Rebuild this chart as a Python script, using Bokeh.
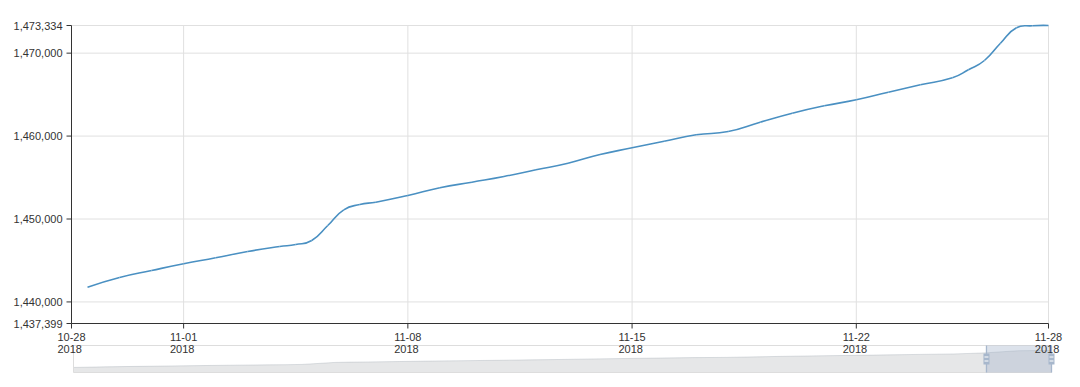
import math
import pandas as pd
from bokeh.plotting import figure
from bokeh.models import Range1d, ColumnDataSource, LabelSet
from bokeh.core.properties import value
from bokeh.embed import file_html
from bokeh.resources import INLINE

# ---------------- data ----------------
dates = [
    "2018-10-29", "2018-10-30", "2018-10-31", "2018-11-01", "2018-11-02",
    "2018-11-03", "2018-11-04", "2018-11-04 12:00", "2018-11-05", "2018-11-05 12:00",
    "2018-11-06", "2018-11-06 12:00", "2018-11-07", "2018-11-08", "2018-11-09",
    "2018-11-10", "2018-11-11", "2018-11-12", "2018-11-13", "2018-11-14",
    "2018-11-15", "2018-11-16", "2018-11-17", "2018-11-18", "2018-11-19",
    "2018-11-20", "2018-11-21", "2018-11-22", "2018-11-23", "2018-11-24",
    "2018-11-25", "2018-11-25 12:00", "2018-11-26", "2018-11-26 12:00", "2018-11-27",
    "2018-11-27 12:00", "2018-11-28",
]
totals = [
    1441776, 1442946, 1443790, 1444598, 1445322,
    1446081, 1446684, 1446925, 1447408, 1449217,
    1451110, 1451749, 1452026, 1452834, 1453763,
    1454438, 1455125, 1455933, 1456729, 1457778,
    1458586, 1459382, 1460154, 1460552, 1461673,
    1462758, 1463651, 1464374, 1465291, 1466183,
    1467027, 1467992, 1469113, 1471200, 1473057,
    1473298, 1473334,
]

x_tick_dates = ["2018-10-28 12:00", "2018-11-01", "2018-11-08", "2018-11-15", "2018-11-22", "2018-11-28"]
x_tick_labels = ["10-28\n2018", "11-01\n2018", "11-08\n2018", "11-15\n2018", "11-22\n2018", "11-28\n2018"]
y_axis_min = 1437399
y_axis_max = 1473334
y_ticks = [1437399, 1440000, 1450000, 1460000, 1470000, 1473334]
zoom_start_pct = 93.35
zoom_end_pct = 100.0
smooth = 0.5

# ---------------- layout (pixels) ----------------
W, H = 1080, 387
AXL, AXR = 71, 1048                  # x extent of the value axes
AXT, AXB = 25, 323                   # y extent of the value axes
SL, SR, ST, SB = 73, 1051, 345, 372  # slider box

TXT = "#333333"
FONT = value("Liberation Sans")


def to_ms(seq):
    idx = pd.to_datetime(list(seq), format="mixed")
    return [float((t - pd.Timestamp("1970-01-01")) / pd.Timedelta("1ms")) for t in idx]


xs = to_ms(dates)
xt = to_ms(x_tick_dates)
t0, t1 = xt[0], xt[-1]

ms_per_px = (t1 - t0) / (AXR - AXL)
val_per_px = (y_axis_max - y_axis_min) / (AXB - AXT)

p = figure(
    width=W, height=H,
    x_range=Range1d(t0 - AXL * ms_per_px, t0 + (W - AXL) * ms_per_px),
    y_range=Range1d(y_axis_min - (H - AXB) * val_per_px, y_axis_max + AXT * val_per_px),
    output_backend="svg", toolbar_location=None,
    x_axis_location=None, y_axis_location=None,
    min_border=0, outline_line_color=None, background_fill_color="white",
)
p.title.visible = False
p.grid.visible = False

p.extra_x_ranges = {"sx": Range1d((0 - SL) / (SR - SL), (W - SL) / (SR - SL))}
p.extra_y_ranges = {"sy": Range1d((SB - H) / (SB - ST), SB / (SB - ST))}

GRID = "#e0e0e0"
# horizontal grid
hy = y_ticks[1:]
p.segment(x0=[t0] * len(hy), x1=[t1] * len(hy), y0=hy, y1=hy, line_color=GRID, line_width=1)
# vertical grid
vx = xt[1:]
p.segment(x0=vx, x1=vx, y0=[y_axis_min] * len(vx), y1=[y_axis_max] * len(vx), line_color=GRID, line_width=1)

# ---------------- smoothed data line (ECharts-style bezier smoothing) ----------------
pts = [((x - t0) / ms_per_px, (v - y_axis_min) / val_per_px) for x, v in zip(xs, totals)]
n = len(pts)
cin, cout = [], []
for i in range(n):
    px, py = pts[i]
    if i == 0 or i == n - 1:
        cin.append((px, py))
        cout.append((px, py))
        continue
    ax_, ay_ = pts[i - 1]
    bx_, by_ = pts[i + 1]
    vx_, vy_ = (bx_ - ax_) * smooth, (by_ - ay_) * smooth
    d0 = math.hypot(px - ax_, py - ay_)
    d1 = math.hypot(bx_ - px, by_ - py)
    s = d0 + d1
    f0, f1 = (d0 / s, d1 / s) if s else (0, 0)
    cin.append((px - vx_ * f0, py - vy_ * f0))
    cout.append((px + vx_ * f1, py + vy_ * f1))


def bx(u):
    return t0 + u * ms_per_px


def by(u):
    return y_axis_min + u * val_per_px


p.bezier(
    x0=[bx(pts[i][0]) for i in range(n - 1)], y0=[by(pts[i][1]) for i in range(n - 1)],
    x1=[bx(pts[i + 1][0]) for i in range(n - 1)], y1=[by(pts[i + 1][1]) for i in range(n - 1)],
    cx0=[bx(cout[i][0]) for i in range(n - 1)], cy0=[by(cout[i][1]) for i in range(n - 1)],
    cx1=[bx(cin[i + 1][0]) for i in range(n - 1)], cy1=[by(cin[i + 1][1]) for i in range(n - 1)],
    line_color="#4a90c2", line_width=1.6,
)

# ---------------- axes ----------------
# y axis
p.segment(x0=[t0], x1=[t0], y0=[y_axis_min], y1=[y_axis_max], line_color=TXT, line_width=1)
p.ray(x=[t0] * len(y_ticks), y=y_ticks, length=5, angle=math.pi,
      length_units="screen", line_color=TXT, line_width=1)
ylab = ColumnDataSource(dict(x=[t0] * len(y_ticks), y=y_ticks, text=[f"{v:,}" for v in y_ticks]))
p.add_layout(LabelSet(x="x", y="y", text="text", source=ylab, x_offset=-9,
                      text_align="right", text_baseline="middle", text_font=FONT,
                      text_font_size="11px", text_color=TXT))

# x axis
p.segment(x0=[t0], x1=[t1], y0=[y_axis_min], y1=[y_axis_min], line_color=TXT, line_width=1)
p.ray(x=xt, y=[y_axis_min] * len(xt), length=5, angle=-math.pi / 2,
      length_units="screen", line_color=TXT, line_width=1)
xlab = ColumnDataSource(dict(x=xt, y=[y_axis_min] * len(xt), text=x_tick_labels))
p.add_layout(LabelSet(x="x", y="y", text="text", source=xlab, y_offset=-7,
                      text_align="center", text_baseline="top", text_font=FONT,
                      text_font_size="11px", text_color=TXT, text_line_height=1.05))

# ---------------- data-zoom slider ----------------
vmin, vmax = min(totals), max(totals)
pad = (vmax - vmin) * 0.3
su = [(x - xs[0]) / (xs[-1] - xs[0]) for x in xs]
sv = [(v - (vmin - pad)) / ((vmax + pad) - (vmin - pad)) for v in totals]

p.varea(x=su, y1=[0] * len(su), y2=sv, fill_color="#e6e7e8",
        x_range_name="sx", y_range_name="sy", level="underlay")
p.line(su, sv, line_color="#2f4554", line_alpha=0.3, line_width=0.5,
       x_range_name="sx", y_range_name="sy", level="underlay")
p.quad(left=[0], right=[1], bottom=[0], top=[1], fill_color=None, line_color="#dddddd",
       x_range_name="sx", y_range_name="sy", level="underlay")

zs, ze = zoom_start_pct / 100, zoom_end_pct / 100
p.quad(left=[zs], right=[ze], bottom=[0], top=[1], fill_color="#a7b7cc", fill_alpha=0.4,
       line_color=None, x_range_name="sx", y_range_name="sy", level="underlay")
hx = [zs, ze]
p.segment(x0=hx, x1=hx, y0=[0, 0], y1=[1, 1], line_color="#a7b7cc", line_width=1.3,
          x_range_name="sx", y_range_name="sy", level="underlay")
p.rect(x=hx, y=[0.5, 0.5], width=6, height=11, width_units="screen", height_units="screen",
       fill_color="#a7b7cc", line_color=None, x_range_name="sx", y_range_name="sy", level="underlay")
dy = 2 / (SB - ST)
p.rect(x=hx + hx, y=[0.5 - dy] * 2 + [0.5 + dy] * 2, width=4, height=1,
       width_units="screen", height_units="screen", fill_color="white", line_color=None,
       x_range_name="sx", y_range_name="sy", level="underlay")

open("out.html", "w").write(file_html(p, INLINE))
